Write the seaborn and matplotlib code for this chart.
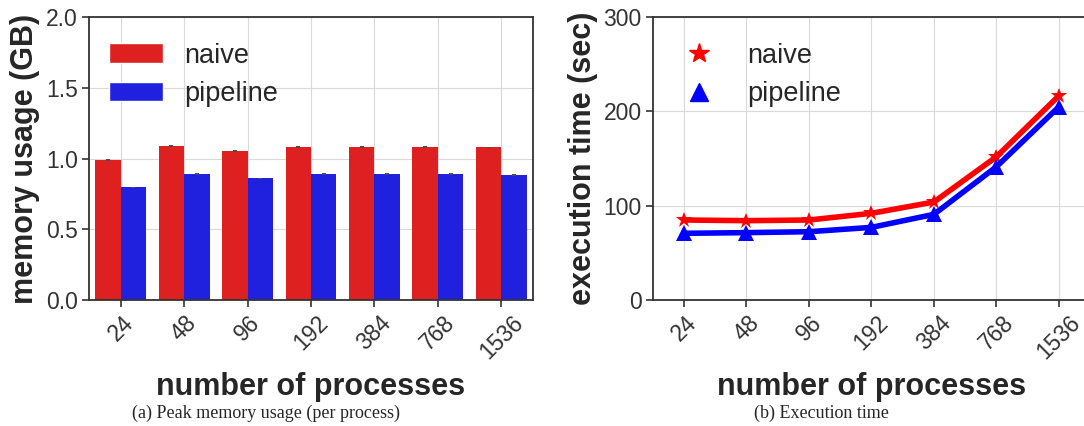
import matplotlib
matplotlib.use("Agg")
import matplotlib.pyplot as plt
from matplotlib.lines import Line2D
from matplotlib.patches import Patch
import seaborn as sns
import pandas as pd
import numpy as np

processes = ["24", "48", "96", "192", "384", "768", "1536"]
series = ["naive", "pipeline"]
mem_naive = [0.988, 1.088, 1.053, 1.081, 1.081, 1.081, 1.080]
mem_pipeline = [0.796, 0.890, 0.861, 0.890, 0.890, 0.890, 0.883]
mem_err_naive = [0.005, 0.004, 0.008, 0.004, 0.004, 0.004, 0.004]
mem_err_pipeline = [0.004, 0.004, 0.004, 0.004, 0.004, 0.004, 0.004]
time_naive = [84.8, 84.1, 84.8, 91.9, 103.9, 151.9, 216.6]
time_pipeline = [70.7, 71.4, 72.4, 77.0, 90.8, 141.3, 204.9]

mem_df = pd.DataFrame({
    "processes": processes * 2,
    "series": [series[0]] * len(processes) + [series[1]] * len(processes),
    "value": mem_naive + mem_pipeline,
})
time_df = pd.DataFrame({
    "processes": processes * 2,
    "series": [series[0]] * len(processes) + [series[1]] * len(processes),
    "value": time_naive + time_pipeline,
})

sns.set_style("whitegrid", {
    "xtick.bottom": True, "ytick.left": True,
    "axes.edgecolor": ".2", "grid.color": ".85",
})
plt.rcParams["font.family"] = ["Liberation Sans", "DejaVu Sans"]
plt.rcParams["xtick.major.size"] = 5
plt.rcParams["ytick.major.size"] = 5
plt.rcParams["xtick.major.width"] = 1.2
plt.rcParams["ytick.major.width"] = 1.2
plt.rcParams["xtick.color"] = ".2"
plt.rcParams["ytick.color"] = ".2"

TICK = 16.5
LABEL = 22
LEG = 19.5

fig = plt.figure(figsize=(10.84, 4.26), dpi=100)
W, H = 1084, 426
ax1 = fig.add_axes([89 / W, (H - 300) / H, 444 / W, 283 / H])
ax2 = fig.add_axes([652.7 / W, (H - 300) / H, 437.5 / W, 283 / H])

palette = {"naive": "red", "pipeline": "blue"}

# --- left: bar chart ---
sns.barplot(data=mem_df, x="processes", y="value", hue="series",
            order=processes, hue_order=series, palette=palette,
            errorbar=None, ax=ax1, legend=False, linewidth=0)
pos = np.arange(len(processes))
ax1.errorbar(pos - 0.2, mem_naive, yerr=mem_err_naive, fmt="none",
             ecolor=".3", elinewidth=3, capsize=0, zorder=5)
ax1.errorbar(pos + 0.2, mem_pipeline, yerr=mem_err_pipeline, fmt="none",
             ecolor=".3", elinewidth=3, capsize=0, zorder=5)
ax1.set_ylim(0, 2.0)
ax1.set_xlim(-0.5, 6.5)
ax1.set_yticks([0, 0.5, 1.0, 1.5, 2.0])
ax1.set_yticklabels(["0.0", "0.5", "1.0", "1.5", "2.0"])
ax1.set_xlabel("number of processes", fontsize=LABEL, fontweight="bold", labelpad=6)
ax1.set_ylabel("memory usage (GB)", fontsize=LABEL, fontweight="bold", labelpad=4)
ax1.tick_params(axis="both", labelsize=TICK, pad=3)
ax1.tick_params(axis="x", rotation=45)
ax1.xaxis.grid(True)
ax1.set_axisbelow(True)
bar_handles = [Patch(facecolor=sns.desaturate(palette[s], 0.75), label=s) for s in series]
ax1.legend(handles=bar_handles, loc="upper left", frameon=False, fontsize=LEG,
           handlelength=2.0, handleheight=0.75, borderaxespad=0,
           bbox_to_anchor=(0.02, 0.947), handletextpad=0.8, labelspacing=0.45)

# --- right: line chart ---
sns.lineplot(data=time_df, x="processes", y="value", hue="series", style="series",
             hue_order=series, style_order=series, palette=palette,
             markers={"naive": "*", "pipeline": "^"}, dashes=False,
             markersize=12, markeredgewidth=0, linewidth=4, ax=ax2, legend=False)
ax2.set_ylim(0, 300)
ax2.set_xlim(-0.5, 6.5)
ax2.set_yticks([0, 100, 200, 300])
ax2.set_xlabel("number of processes", fontsize=LABEL, fontweight="bold", labelpad=6)
ax2.set_ylabel("execution time (sec)", fontsize=LABEL, fontweight="bold", labelpad=4)
ax2.tick_params(axis="both", labelsize=TICK, pad=3)
ax2.tick_params(axis="x", rotation=45)
line_handles = [
    Line2D([], [], color="red", marker="*", linestyle="none", markersize=15, label="naive"),
    Line2D([], [], color="blue", marker="^", linestyle="none", markersize=13, label="pipeline"),
]
ax2.legend(handles=line_handles, loc="upper left", frameon=False, fontsize=LEG,
           handlelength=1.0, borderaxespad=0,
           bbox_to_anchor=(0.05, 0.947), handletextpad=1.3, labelspacing=0.45)

for ax in (ax1, ax2):
    for sp in ax.spines.values():
        sp.set_linewidth(1.3)
        sp.set_color(".2")

fig.text(266 / W, 1 - 413 / H, "(a) Peak memory usage (per process)",
         ha="center", va="center", fontsize=13, family="Liberation Serif")
fig.text(821 / W, 1 - 413 / H, "(b) Execution time",
         ha="center", va="center", fontsize=13, family="Liberation Serif")

fig.savefig("out.png", dpi=100)
